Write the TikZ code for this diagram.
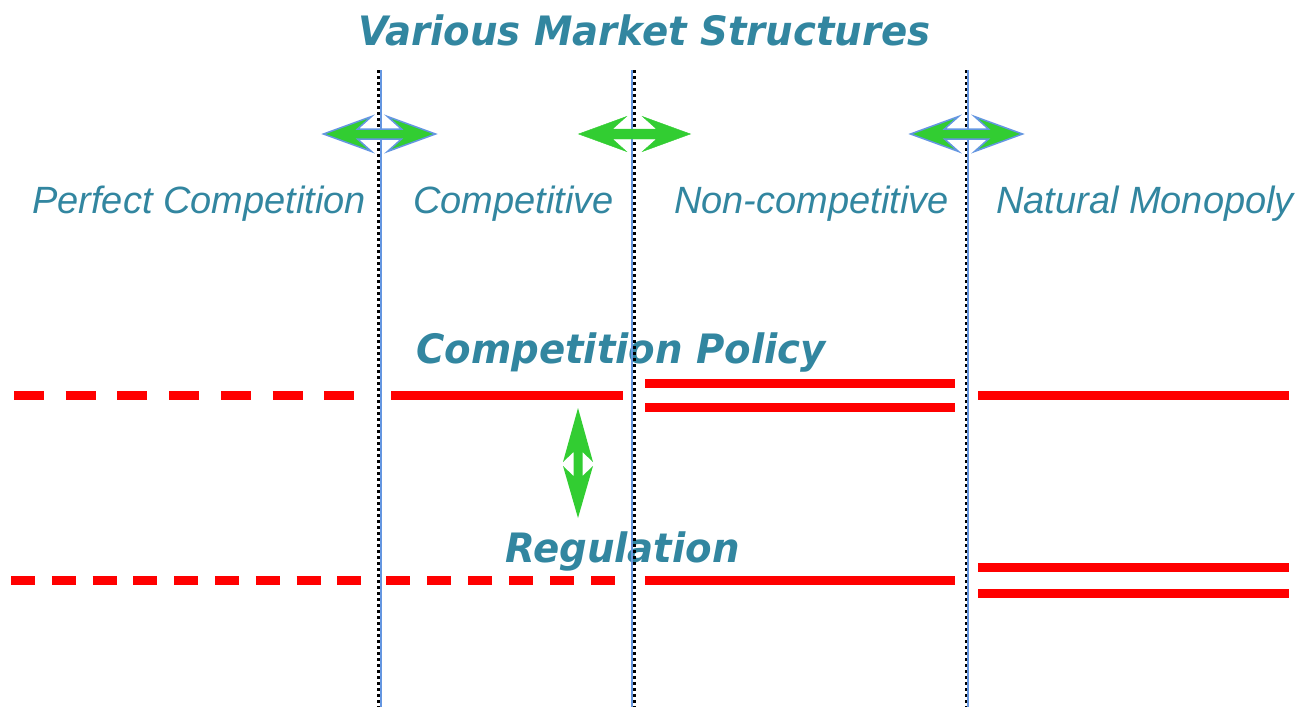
\documentclass[tikz,border=0pt]{standalone}
\usepackage{fontspec}
\setmainfont{Liberation Sans}
\newfontfamily\headfont[FakeStretch=0.955]{DejaVu Sans}
\usetikzlibrary{positioning}

\definecolor{mktteal}{RGB}{50,134,160}
\definecolor{polred}{RGB}{255,0,0}
\definecolor{arrgreen}{RGB}{50,205,50}
\definecolor{edgeblue}{RGB}{100,150,225}

% horizontal two-way block arrow centred at (#1,#2), style #3
\newcommand{\twowayarrow}[3]{%
  \filldraw[#3] ({#1-56},#2) -- ({#1-8},{#2-17.5}) -- ({#1-22},{#2-5})
    -- ({#1+22},{#2-5}) -- ({#1+8},{#2-17.5}) -- ({#1+56},#2)
    -- ({#1+8},{#2+17.5}) -- ({#1+22},{#2+5}) -- ({#1-22},{#2+5})
    -- ({#1-8},{#2+17.5}) -- cycle;}

\begin{document}
\begin{tikzpicture}[x=1pt,y=-1pt]
  \tikzstyle{title}=[inner sep=0pt,anchor=base west,text=mktteal,
                     font=\headfont\bfseries\itshape\fontsize{40.5}{40.5}\selectfont]
  \tikzstyle{market}=[inner sep=0pt,anchor=base west,text=mktteal,
                      font=\itshape\fontsize{38}{38}\selectfont]
  \tikzstyle{policy}=[line width=9pt,draw=polred]
  \tikzstyle{divider}=[line width=2pt,draw=edgeblue]
  \tikzstyle{dots}=[line width=3pt,draw=black,dash pattern=on 3pt off 3pt]

  \useasboundingbox (0,0) rectangle (1309,707);

  % headings
  \node[title] (head) at (358,45) {Various Market Structures};
  \node[title] (cpol) at (416,363) {Competition Policy};
  \node[title] (regl) at (505,562) {Regulation};

  % market types
  \node[market] (perf) at (32,213) {Perfect Competition};
  \node[market] (comp) at (413,213) {Competitive};
  \node[market] (ncomp) at (674,213) {Non-competitive};
  \node[market] (natm) at (996,213) {Natural Monopoly};

  % borders between the structures
  \draw[dots] (378,70) -- (378,707);
  \draw[divider] (381,70) -- (381,707);
  \draw[dots] (634.5,70) -- (634.5,707);
  \draw[divider] (632,70) -- (632,707);
  \draw[dots] (966,70) -- (966,707);
  \draw[divider] (967.5,70) -- (967.5,707);

  % competition policy
  \draw[policy,dash pattern=on 30pt off 21.7pt] (14,395) -- (356,395);
  \draw[policy] (391,395) -- (623,395);
  \draw[policy] (645,383) -- (955,383);
  \draw[policy] (645,407) -- (955,407);
  \draw[policy] (978,395) -- (1289,395);

  % regulation
  \draw[policy,dash pattern=on 24pt off 16.8pt] (11,580) -- (365,580);
  \draw[policy,dash pattern=on 24pt off 17pt] (386,580) -- (624,580);
  \draw[policy] (645,580) -- (955,580);
  \draw[policy] (978,567) -- (1289,567);
  \draw[policy] (978,593) -- (1289,593);

  % shifts
  \twowayarrow{379.5}{134}{fill=arrgreen,draw=edgeblue,line width=1.5pt}
  \twowayarrow{634.5}{134}{fill=arrgreen,draw=arrgreen}
  \twowayarrow{966.5}{134}{fill=arrgreen,draw=edgeblue,line width=1.5pt}
  \fill[arrgreen] (578,408) -- (593,462) -- (582.5,452) -- (582.5,476)
    -- (593,466) -- (578,518) -- (563,466) -- (573.5,476) -- (573.5,452)
    -- (563,462) -- cycle;
\end{tikzpicture}
\end{document}
